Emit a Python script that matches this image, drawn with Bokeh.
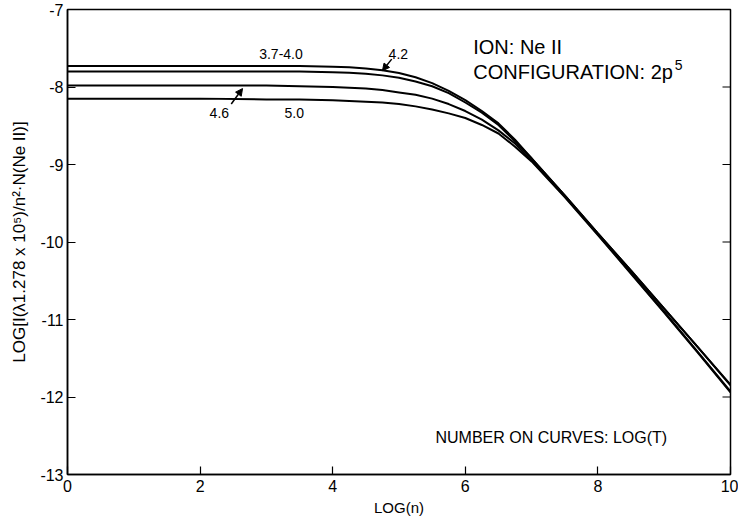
from bokeh.plotting import figure
from bokeh.models import Range1d, FixedTicker, Label, Arrow, NormalHead
from bokeh.embed import file_html
from bokeh.resources import INLINE

# ---- data ----
log_n = [0, 1, 2, 3, 3.5, 4, 4.25, 4.5, 4.75, 5, 5.25, 5.5, 5.75, 6, 6.25, 6.5, 6.75, 7, 7.5, 8, 8.5, 9, 9.5, 10]
curve_37_40 = [-7.73, -7.73, -7.73, -7.73, -7.73, -7.74, -7.745, -7.76, -7.785, -7.82, -7.875, -7.95, -8.05, -8.17,
               -8.31, -8.47, -8.68, -8.92, -9.40, -9.89, -10.37, -10.86, -11.35, -11.84]
curve_42 = [-7.80, -7.80, -7.80, -7.80, -7.80, -7.81, -7.815, -7.83, -7.85, -7.88, -7.93, -7.99, -8.08, -8.20,
            -8.33, -8.49, -8.70, -8.92, -9.40, -9.89, -10.37, -10.86, -11.35, -11.85]
curve_46 = [-7.98, -7.98, -7.98, -7.98, -7.99, -8.00, -8.01, -8.02, -8.04, -8.07, -8.10, -8.15, -8.22, -8.31,
            -8.42, -8.56, -8.73, -8.95, -9.41, -9.90, -10.40, -10.90, -11.41, -11.93]
curve_50 = [-8.15, -8.15, -8.15, -8.16, -8.16, -8.17, -8.18, -8.19, -8.20, -8.22, -8.25, -8.29, -8.34, -8.40,
            -8.49, -8.60, -8.77, -8.96, -9.42, -9.91, -10.41, -10.91, -11.42, -11.94]
x_ticks = [0, 2, 4, 6, 8, 10]
y_ticks = [-13, -12, -11, -10, -9, -8, -7]
y_tick_labels = ["-13", "-12", "-11", "-10", "-9", "-8", "-7"]

FONT = "Liberation Sans"

p = figure(width=738, height=520, output_backend="svg", toolbar_location=None,
           x_range=Range1d(0, 10), y_range=Range1d(-13, -7),
           min_border_left=67, min_border_right=8, min_border_top=9, min_border_bottom=46)
p.grid.visible = False
p.outline_line_color = "black"
p.outline_line_width = 1.5
p.background_fill_color = "white"
p.border_fill_color = "white"

for ax in (p.xaxis[0], p.yaxis[0]):
    ax.axis_line_color = "black"
    ax.axis_line_width = 1.5
    ax.major_tick_in = 8
    ax.major_tick_out = 0
    ax.major_tick_line_width = 1.2
    ax.minor_tick_line_color = None
    ax.major_label_text_font = FONT
    ax.major_label_text_font_size = "16px"
    ax.major_label_text_color = "black"
    ax.axis_label_text_font = FONT
    ax.axis_label_text_font_style = "normal"
    ax.axis_label_text_color = "black"

p.xaxis.ticker = FixedTicker(ticks=x_ticks)
p.yaxis.ticker = FixedTicker(ticks=y_ticks)
p.yaxis.major_label_overrides = dict(zip(y_ticks, y_tick_labels))
p.xaxis.axis_label = "LOG(n)"
p.xaxis.axis_label_text_font_size = "15px"
p.xaxis.axis_label_standoff = 4
p.xaxis.major_label_standoff = 5
p.yaxis.axis_label = "LOG[I(λ1.278 x 10⁵)/n²·N(Ne II)]"
p.yaxis.axis_label_text_font_size = "17px"
p.yaxis.axis_label_standoff = 8
p.yaxis.major_label_standoff = 4

# inward tick marks on the right edge of the frame (clipped dashes at x = 10)
p.scatter([x_ticks[-1]] * len(y_ticks), y_ticks, marker="dash", size=16,
          line_color="black", line_width=1.2)

for ys in (curve_37_40, curve_42, curve_46, curve_50):
    p.line(log_n, ys, line_color="black", line_width=2)

def lab(x, y, t, size, align="center"):
    p.add_layout(Label(x=x, y=y, text=t, text_font=FONT, text_font_size=size,
                       text_align=align, text_baseline="middle", text_color="black"))

lab(3.22, -7.57, "3.7-4.0", "14px")
lab(4.99, -7.57, "4.2", "14px")
lab(2.29, -8.34, "4.6", "14px")
lab(3.42, -8.34, "5.0", "14px")
lab(6.12, -7.48, "ION: Ne II", "20px", "left")
lab(6.12, -7.81, "CONFIGURATION: 2p", "20px", "left")
lab(9.16, -7.72, "5", "14px", "left")
lab(5.55, -12.52, "NUMBER ON CURVES: LOG(T)", "16px", "left")

p.add_layout(Arrow(end=NormalHead(size=7, fill_color="black", line_color="black"),
                   x_start=2.47, y_start=-8.22, x_end=2.64, y_end=-8.02,
                   line_width=1.5, line_color="black"))
p.add_layout(Arrow(end=NormalHead(size=7, fill_color="black", line_color="black"),
                   x_start=4.89, y_start=-7.64, x_end=4.75, y_end=-7.79,
                   line_width=1.5, line_color="black"))

open("out.html", "w").write(file_html(p, INLINE))
